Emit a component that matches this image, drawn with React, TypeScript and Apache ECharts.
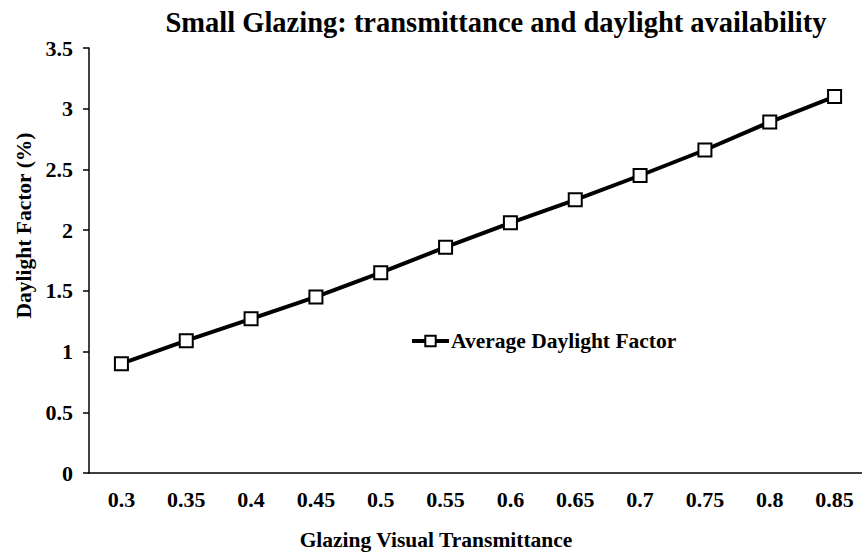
import React, { useEffect, useRef } from "react";
import * as echarts from "echarts";

const categories = ["0.3", "0.35", "0.4", "0.45", "0.5", "0.55", "0.6", "0.65", "0.7", "0.75", "0.8", "0.85"];
const avgDaylightFactor = [0.9, 1.09, 1.27, 1.45, 1.65, 1.86, 2.06, 2.25, 2.45, 2.66, 2.89, 3.1];
const yTicks = { min: 0, max: 3.5, interval: 0.5 };

const FONT = "'Liberation Serif', 'Times New Roman', serif";

export default function App() {
  const ref = useRef<HTMLDivElement>(null);
  useEffect(() => {
    if (!ref.current) return;
    const chart = echarts.init(ref.current, undefined, { renderer: "svg" });
    chart.setOption({
      animation: false,
      backgroundColor: "#ffffff",
      title: {
        text: "Small Glazing: transmittance and daylight availability",
        left: 491,
        textAlign: "center",
        top: 3,
        textStyle: { fontFamily: FONT, fontWeight: "bold", fontSize: 28.5, color: "#000" },
      },
      legend: {
        data: ["Average Daylight Factor"],
        left: 405,
        top: 325,
        itemWidth: 37,
        itemHeight: 13,
        itemGap: 4,
        lineStyle: { width: 4, color: "#000" },
        itemStyle: { borderWidth: 2, borderColor: "#000", color: "#fff" },
        textStyle: { fontFamily: FONT, fontWeight: "bold", fontSize: 21.5, color: "#000", padding: [0, 0, 0, -3] },
      },
      grid: { left: 89, right: -5, top: 48, bottom: 79, containLabel: false, outerBoundsMode: "none" },
      xAxis: {
        type: "category",
        data: categories,
        boundaryGap: true,
        axisLine: { lineStyle: { color: "#000", width: 1.5 } },
        axisTick: { show: false },
        axisLabel: { fontFamily: FONT, fontWeight: "bold", fontSize: 22, color: "#000", margin: 15 },
        name: "Glazing Visual Transmittance",
        nameLocation: "middle",
        nameGap: 56,
        nameTextStyle: { fontFamily: FONT, fontWeight: "bold", fontSize: 21.5, color: "#000", padding: [0, 84, 0, 0] },
      },
      yAxis: {
        type: "value",
        min: yTicks.min,
        max: yTicks.max,
        interval: yTicks.interval,
        splitLine: { show: false },
        axisLine: { show: true, lineStyle: { color: "#000", width: 1.5 } },
        axisTick: { show: true, length: 6, lineStyle: { color: "#000", width: 1.5 } },
        axisLabel: { fontFamily: FONT, fontWeight: "bold", fontSize: 22, color: "#000", margin: 16 },
        name: "Daylight Factor (%)",
        nameLocation: "middle",
        nameGap: 53,
        nameTextStyle: { fontFamily: FONT, fontWeight: "bold", fontSize: 21.5, color: "#000", padding: [0, 0, 0, 70] },
      },
      series: [
        {
          name: "Average Daylight Factor",
          type: "line",
          data: avgDaylightFactor,
          symbol: "rect",
          symbolSize: 13,
          showAllSymbol: true,
          lineStyle: { color: "#000", width: 4 },
          itemStyle: { color: "#fff", borderColor: "#000", borderWidth: 2 },
        },
      ],
    });
    return () => chart.dispose();
  }, []);
  return <div ref={ref} style={{ width: 862, height: 552, position: "absolute", left: 0, top: 0 }} />;
}
